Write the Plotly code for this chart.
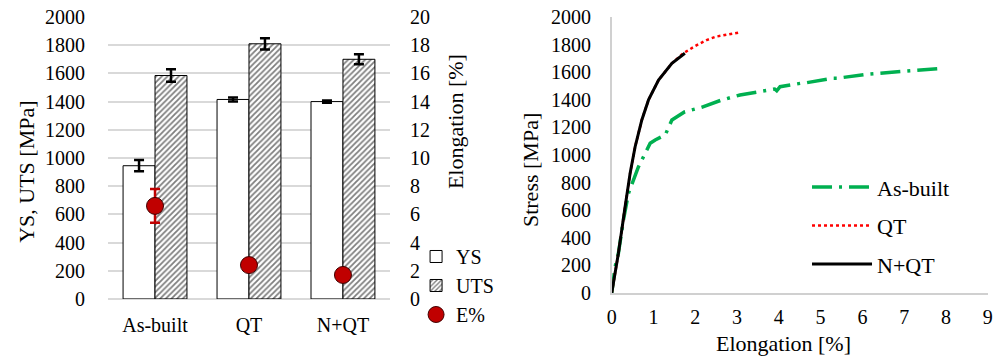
import plotly.graph_objects as go

# ---- data: left chart ----
categories = ["As-built", "QT", "N+QT"]
ys = [945, 1415, 1400]
ys_err = [40, 14, 8]
uts = [1585, 1810, 1700]
uts_err = [45, 40, 35]
elong = [6.6, 2.4, 1.7]
elong_err = [1.2, 0, 0]

# ---- data: right chart (stress-strain) ----
asb_x = [0, 0.08, 0.16, 0.28, 0.40, 0.64, 0.80, 0.92, 1.04, 1.28, 1.44, 1.75, 2.15, 2.6, 3.07,
         3.5, 3.90, 3.95, 4.03, 4.51, 4.67, 5.30, 5.39, 6.10, 6.5, 6.90, 7.30, 7.90]
asb_y = [0, 190, 288, 530, 722, 915, 1012, 1085, 1109, 1145, 1254, 1314, 1345, 1395, 1435,
         1460, 1478, 1465, 1495, 1519, 1524, 1556, 1556, 1585, 1595, 1604, 1616, 1628]
qt_x = [0, 0.08, 0.16, 0.32, 0.44, 0.56, 0.72, 0.88, 1.12, 1.44, 1.71, 2.0, 2.27, 2.5, 2.8, 3.07]
qt_y = [0, 150, 288, 625, 867, 1060, 1254, 1399, 1543, 1664, 1737, 1790, 1833, 1858, 1876, 1889]
nqt_x = [0, 0.08, 0.16, 0.32, 0.44, 0.56, 0.72, 0.88, 1.12, 1.44, 1.75]
nqt_y = [0, 150, 288, 625, 867, 1060, 1254, 1399, 1543, 1664, 1737]

FONT = "Liberation Serif"
TICK = dict(family=FONT, size=20, color="#000000")
CLEAR = "rgba(0,0,0,0)"

fig = go.Figure()

fig.add_trace(go.Bar(
    x=categories, y=ys, name="YS", xaxis="x", yaxis="y",
    marker=dict(color="white", line=dict(color="black", width=1)),
    error_y=dict(type="data", array=ys_err, color="black", thickness=2.5, width=5),
    legend="legend",
))
fig.add_trace(go.Bar(
    x=categories, y=uts, name="UTS", xaxis="x", yaxis="y",
    marker=dict(color="white", line=dict(color="black", width=1),
                pattern=dict(shape="/", fgcolor="black", bgcolor="white", size=4, solidity=0.45)),
    error_y=dict(type="data", array=uts_err, color="black", thickness=2.5, width=5),
    legend="legend",
))
fig.add_trace(go.Scatter(
    x=categories, y=elong, name="E%", mode="markers", xaxis="x", yaxis="y2",
    marker=dict(color="#c00000", size=17, line=dict(color="#400000", width=1)),
    error_y=dict(type="data", array=elong_err, color="#c00000", thickness=2.5, width=5),
    legend="legend",
))

fig.add_trace(go.Scatter(
    x=asb_x, y=asb_y, name="As-built", mode="lines", xaxis="x2", yaxis="y3",
    line=dict(color="#00b050", width=3.5, dash="20px,7px,3px,7px"), legend="legend2",
    legendgroup="a",
))
fig.add_trace(go.Scatter(
    x=qt_x, y=qt_y, name="QT", mode="lines", xaxis="x2", yaxis="y3",
    line=dict(color="#ff0000", width=2.5, dash="dot"), legend="legend2",
    legendgroup="b",
))
fig.add_trace(go.Scatter(
    x=nqt_x, y=nqt_y, name="N+QT", mode="lines", xaxis="x2", yaxis="y3",
    line=dict(color="black", width=3), legend="legend2",
    legendgroup="c",
))

fig.update_layout(
    width=1005, height=358,
    margin=dict(l=0, r=0, t=0, b=0, autoexpand=False),
    paper_bgcolor="white", plot_bgcolor="white",
    barmode="group", bargap=0.32, bargroupgap=0,
    font=dict(family=FONT, size=20, color="black"),
    xaxis=dict(domain=[0.1075, 0.388], anchor="y", showline=False, showgrid=False,
               automargin=False, ticks="outside", ticklen=8, tickcolor=CLEAR, tickfont=TICK),
    yaxis=dict(domain=[0.165, 0.9525], range=[0, 2000], dtick=200, showgrid=True,
               gridcolor="#d9d9d9", gridwidth=1.5, zeroline=True, zerolinecolor="#d9d9d9",
               zerolinewidth=1.5, showline=False, automargin=False,
               ticks="outside", ticklen=18, tickcolor=CLEAR, tickfont=TICK),
    yaxis2=dict(overlaying="y", side="right", anchor="x", range=[0, 20], dtick=2,
                showgrid=False, zeroline=False, showline=False, automargin=False,
                ticks="outside", ticklen=15, tickcolor=CLEAR, tickfont=TICK),
    xaxis2=dict(domain=[0.6087, 0.9828], anchor="y3", range=[0, 9], dtick=1,
                showgrid=False, zeroline=False, showline=True, linecolor="#d0d0d0",
                linewidth=1.5, automargin=False,
                ticks="outside", ticklen=5, tickcolor=CLEAR, tickfont=TICK),
    yaxis3=dict(domain=[0.1816, 0.9525], anchor="x2", range=[0, 2000], dtick=200,
                showgrid=False, zeroline=False, showline=True, linecolor="#d0d0d0",
                linewidth=1.5, automargin=False,
                ticks="outside", ticklen=15, tickcolor=CLEAR, tickfont=TICK),
    legend=dict(x=0.414, y=0.338, xanchor="left", yanchor="top", bgcolor=CLEAR,
                font=dict(family=FONT, size=20, color="black"), itemwidth=30,
                tracegroupgap=0, traceorder="normal"),
    legend2=dict(x=0.803, y=0.536, xanchor="left", yanchor="top", bgcolor=CLEAR,
                 font=dict(family=FONT, size=22, color="black"), itemwidth=60,
                 tracegroupgap=7, traceorder="grouped"),
    showlegend=True,
)

ann_font = dict(family=FONT, size=22, color="black")
fig.add_annotation(text="YS, UTS [MPa]", xref="paper", yref="paper", x=27 / 1005, y=0.52,
                   xanchor="center", yanchor="middle",
                   textangle=-90, showarrow=False, font=ann_font)
fig.add_annotation(text="Elongation [%]", xref="paper", yref="paper", x=455 / 1005, y=0.659,
                   xanchor="center", yanchor="middle",
                   textangle=-90, showarrow=False, font=ann_font)
fig.add_annotation(text="Stress [MPa]", xref="paper", yref="paper", x=530 / 1005, y=0.525,
                   xanchor="center", yanchor="middle",
                   textangle=-90, showarrow=False, font=ann_font)
fig.add_annotation(text="Elongation [%]", xref="paper", yref="paper", x=783 / 1005,
                   y=(358 - 343) / 358, xanchor="center", yanchor="middle",
                   showarrow=False, font=ann_font)

fig.write_html("out.html")
